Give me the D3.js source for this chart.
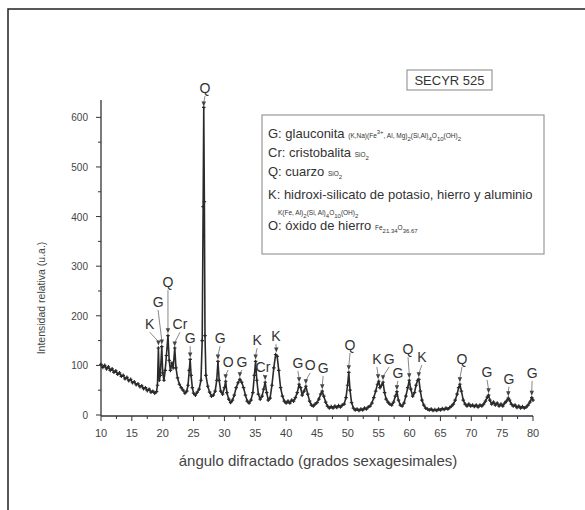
<!DOCTYPE html>
<html>
<head>
<meta charset="utf-8">
<script src="https://cdn.jsdelivr.net/npm/d3@7/dist/d3.min.js"></script>
<style>
  body { margin: 0; background: #fff; }
  svg { display: block; font-family: "Liberation Sans", Arial, sans-serif; }
</style>
</head>
<body>
<svg id="chart" width="585" height="510"></svg>
<script>
// difractograma SECYR 525: [2θ, intensidad]
var pattern = [
  [10.0,102],[10.3,96],[10.6,100],[10.9,93],[11.2,97],[11.5,90],[11.8,93],[12.1,86],[12.4,89],[12.7,82],
  [13.0,85],[13.3,78],[13.6,80],[13.9,73],[14.2,76],[14.5,69],[14.8,72],[15.1,65],[15.4,67],[15.7,61],
  [16.0,63],[16.3,57],[16.6,59],[16.9,53],[17.2,55],[17.5,49],[17.8,52],[18.1,46],[18.4,48],[18.7,44],
  [19.0,47],[19.15,60],[19.3,135],[19.45,70],[19.6,80],[19.85,138],[20.0,85],[20.2,70],[20.4,90],[20.6,120],
  [20.85,160],[21.05,110],[21.25,90],[21.5,105],[21.7,95],[21.95,135],[22.15,95],[22.4,75],[22.7,62],[23.0,55],
  [23.3,50],[23.6,44],[23.9,48],[24.1,60],[24.3,90],[24.45,112],[24.6,80],[24.8,55],[25.0,44],[25.3,40],
  [25.6,46],[25.9,52],[26.2,70],[26.4,150],[26.55,420],[26.65,620],[26.75,430],[26.85,160],[27.0,80],[27.3,58],
  [27.6,46],[27.9,38],[28.2,40],[28.5,48],[28.75,70],[28.95,108],[29.15,70],[29.4,48],[29.7,42],[30.0,55],
  [30.2,68],[30.4,45],[30.7,32],[31.0,25],[31.3,30],[31.6,40],[31.9,55],[32.2,65],[32.5,72],[32.8,66],
  [33.1,55],[33.4,40],[33.7,28],[34.0,24],[34.3,30],[34.6,45],[34.85,80],[35.05,108],[35.25,70],[35.5,42],
  [35.8,32],[36.1,38],[36.35,52],[36.6,66],[36.85,45],[37.1,30],[37.4,34],[37.7,60],[38.0,95],[38.3,122],
  [38.55,118],[38.8,90],[39.1,55],[39.4,38],[39.7,28],[40.0,24],[40.3,28],[40.6,24],[40.9,30],[41.2,28],
  [41.5,35],[41.8,45],[42.1,62],[42.35,55],[42.6,40],[42.9,48],[43.2,58],[43.5,42],[43.8,28],[44.1,20],
  [44.4,18],[44.7,22],[45.0,25],[45.3,32],[45.6,42],[45.85,48],[46.1,38],[46.4,26],[46.7,18],[47.0,14],
  [47.3,17],[47.6,14],[47.9,18],[48.2,15],[48.5,19],[48.8,16],[49.1,20],[49.4,22],[49.7,35],[49.95,60],
  [50.15,86],[50.35,50],[50.6,25],[50.9,14],[51.2,10],[51.5,12],[51.8,9],[52.1,12],[52.4,10],[52.7,14],
  [53.0,12],[53.3,16],[53.6,18],[53.9,24],[54.2,35],[54.5,48],[54.8,62],[55.0,68],[55.2,55],[55.45,60],
  [55.7,66],[55.95,45],[56.2,32],[56.5,26],[56.8,22],[57.1,20],[57.4,26],[57.7,38],[57.95,47],[58.2,30],
  [58.5,20],[58.8,18],[59.1,24],[59.4,38],[59.7,55],[59.95,70],[60.2,52],[60.5,38],[60.8,45],[61.05,60],
  [61.3,70],[61.5,72],[61.75,48],[62.0,30],[62.3,20],[62.6,14],[62.9,12],[63.2,10],[63.5,12],[63.8,9],
  [64.1,11],[64.4,9],[64.7,12],[65.0,10],[65.3,13],[65.6,11],[65.9,14],[66.2,12],[66.5,15],[66.8,18],
  [67.1,22],[67.4,30],[67.7,42],[67.95,55],[68.15,62],[68.4,48],[68.7,30],[69.0,22],[69.3,18],[69.6,22],
  [69.9,18],[70.2,20],[70.5,17],[70.8,20],[71.1,16],[71.4,20],[71.7,18],[72.0,22],[72.3,28],[72.6,36],
  [72.8,40],[73.0,30],[73.3,22],[73.6,26],[73.9,20],[74.2,24],[74.5,18],[74.8,22],[75.1,18],[75.4,24],
  [75.7,28],[76.0,34],[76.2,30],[76.5,22],[76.8,18],[77.1,20],[77.4,15],[77.7,18],[78.0,14],[78.3,17],
  [78.6,14],[78.9,16],[79.2,20],[79.5,26],[79.8,35],[80.0,30]
];

// identificación de picos: fase, 2θ del pico, tope de flecha, posición de la etiqueta (2θ, intensidad)
var peakPhase = ["K","G","Q","Cr","G","Q","G","O","G","K","Cr","K","G","O","G","Q","K","G","G","Q","K","Q","G","G","G"];
var peakAngle = [19.3,19.85,20.85,21.95,24.45,26.65,28.95,30.2,32.5,35.05,36.6,38.4,42.1,43.2,45.85,50.15,54.9,55.7,57.95,59.95,61.5,68.15,72.8,76.0,79.8];
var peakTip   = [140,142,165,138,116,622,112,72,76,112,70,126,66,62,52,90,72,70,50,74,76,66,44,38,39];
var labelAngle = [17.9,19.25,20.85,22.8,24.45,26.85,29.3,30.6,32.85,35.3,36.25,38.35,41.9,43.9,46.0,50.35,54.7,56.7,58.1,59.75,62.0,68.5,72.55,76.1,79.85];
var labelValue = [183,228,268,183,155,659,155,107,107,151,97,159,105,101,95,141,113,113,85,133,117,113,87,73,85];

var xTicks = [10,15,20,25,30,35,40,45,50,55,60,65,70,75,80];
var yTicks = [0,100,200,300,400,500,600];

var legendLines = [
  [["G: glauconita ","n"],["(K,Na)(Fe","s"],["3+","sup"],[", Al, Mg)","s"],["2","sub"],["(Si,Al)","s"],["4","sub"],["O","s"],["10","sub"],["(OH)","s"],["2","sub"]],
  [["Cr: cristobalita ","n"],["SiO","s"],["2","sub"]],
  [["Q: cuarzo ","n"],["SiO","s"],["2","sub"]],
  [["K: hidroxi-silicato de potasio, hierro y aluminio","n"]],
  [["K(Fe, Al)","s"],["2","sub"],["(Si, Al)","s"],["4","sub"],["O","s"],["10","sub"],["(OH)","s"],["2","sub"]],
  [["O: óxido de hierro ","n"],["Fe","s"],["21.34","sub"],["O","s"],["36.67","sub"]]
];

var svg = d3.select('#chart');

// marco
svg.append('path')
   .attr('d','M8 510 L8 9 L585 9')
   .attr('fill','none')
   .attr('stroke','#222')
   .attr('stroke-width',1.5);

var x = d3.scaleLinear().domain([10,80]).range([101,533]);
var y = d3.scaleLinear().domain([0,635]).range([415,100]);

// ejes
var xAxis = svg.append('g').attr('transform','translate(0,416)');
xAxis.append('line').attr('x1',x(10)).attr('x2',x(80)).attr('stroke','#333').attr('stroke-width',1.3);
xAxis.selectAll('.minor').data(d3.range(12.5,80,5)).enter().append('line')
     .attr('x1',function(d){ return x(d); }).attr('x2',function(d){ return x(d); })
     .attr('y1',0).attr('y2',3).attr('stroke','#333');
xAxis.selectAll('.major').data(xTicks).enter().append('line')
     .attr('x1',function(d){ return x(d); }).attr('x2',function(d){ return x(d); })
     .attr('y1',0).attr('y2',5).attr('stroke','#333');
xAxis.selectAll('text').data(xTicks).enter().append('text')
     .attr('x',function(d){ return x(d); })
     .attr('y',21)
     .attr('text-anchor','middle')
     .attr('font-size','11px')
     .attr('fill','#444')
     .text(function(d){ return d; });

var yAxis = svg.append('g').attr('transform','translate(101,0)');
yAxis.append('line').attr('y1',y(0)+1).attr('y2',y(635)).attr('stroke','#333').attr('stroke-width',1.3);
yAxis.selectAll('.minor').data(d3.range(50,650,100)).enter().append('line')
     .attr('y1',function(d){ return y(d); }).attr('y2',function(d){ return y(d); })
     .attr('x1',0).attr('x2',-3).attr('stroke','#333');
yAxis.selectAll('.major').data(yTicks).enter().append('line')
     .attr('y1',function(d){ return y(d); }).attr('y2',function(d){ return y(d); })
     .attr('x1',0).attr('x2',-5).attr('stroke','#333');
yAxis.selectAll('text').data(yTicks).enter().append('text')
     .attr('x',-13)
     .attr('y',function(d){ return y(d) + 4; })
     .attr('text-anchor','end')
     .attr('font-size','10px')
     .attr('fill','#444')
     .text(function(d){ return d; });

svg.append('text')
   .attr('transform','translate(45,298) rotate(-90)')
   .attr('text-anchor','middle')
   .attr('font-size','10.5px')
   .attr('fill','#444')
   .text('Intensidad relativa (u.a.)');

svg.append('text')
   .attr('x',318).attr('y',466)
   .attr('text-anchor','middle')
   .attr('font-size','15px')
   .attr('fill','#444')
   .text('ángulo difractado (grados sexagesimales)');

// líneas de identificación
var ann = svg.append('g');
peakPhase.forEach(function(p, i){
  var lx = x(labelAngle[i]), ly = y(labelValue[i]);
  var tx = x(peakAngle[i]), ty = y(peakTip[i]);
  ann.append('line')
     .attr('x1',lx).attr('y1',ly + 8)
     .attr('x2',tx).attr('y2',ty - 4)
     .attr('stroke','#888').attr('stroke-width',1);
  ann.append('path')
     .attr('d','M' + (tx-2.2) + ' ' + (ty-5) + 'L' + (tx+2.2) + ' ' + (ty-5) + 'L' + tx + ' ' + ty + 'Z')
     .attr('fill','#444');
  ann.append('text')
     .attr('x',lx).attr('y',ly + 5)
     .attr('text-anchor','middle')
     .attr('font-size','14px')
     .attr('fill','#333')
     .text(p);
});

// curva
var line = d3.line()
  .x(function(d){ return x(d[0]); })
  .y(function(d){ return y(d[1]); });
svg.append('path')
   .datum(pattern)
   .attr('d',line)
   .attr('fill','none')
   .attr('stroke','#2a2a2a')
   .attr('stroke-width',1.6)
   .attr('stroke-linejoin','round');
// marcadores pequeños sobre la curva
var sym = d3.symbol().type(d3.symbolCross).size(7);
svg.append('g').selectAll('path')
   .data(pattern)
   .enter()
   .append('path')
   .attr('transform',function(d){ return 'translate(' + x(d[0]) + ',' + y(d[1]) + ')'; })
   .attr('d',sym)
   .attr('fill','#2a2a2a');

// título
svg.append('rect')
   .attr('x',407).attr('y',70).attr('width',85).attr('height',20)
   .attr('fill','#fff').attr('stroke','#999').attr('stroke-width',1.2);
svg.append('text')
   .attr('x',449.5).attr('y',85)
   .attr('text-anchor','middle')
   .attr('font-size','13px')
   .attr('fill','#333')
   .text('SECYR 525');

// leyenda
svg.append('rect')
   .attr('x',262).attr('y',115).attr('width',282).attr('height',139)
   .attr('fill','#fff').attr('stroke','#999').attr('stroke-width',1.2);
var legendY = [138,157,176,199,215,230];
var legendX = [268,268,268,268,278,268];
var shift = { n: 0, s: 0, sub: 2.5, sup: -4 };
var size = { n: '13px', s: '6.5px', sub: '6px', sup: '6px' };
legendLines.forEach(function(parts, i){
  var t = svg.append('text')
     .attr('x',legendX[i]).attr('y',legendY[i])
     .attr('fill','#333');
  var cur = 0;
  parts.forEach(function(p){
    t.append('tspan')
     .attr('font-size',size[p[1]])
     .attr('dy',shift[p[1]] - cur)
     .text(p[0]);
    cur = shift[p[1]];
  });
});
</script>
</body>
</html>
